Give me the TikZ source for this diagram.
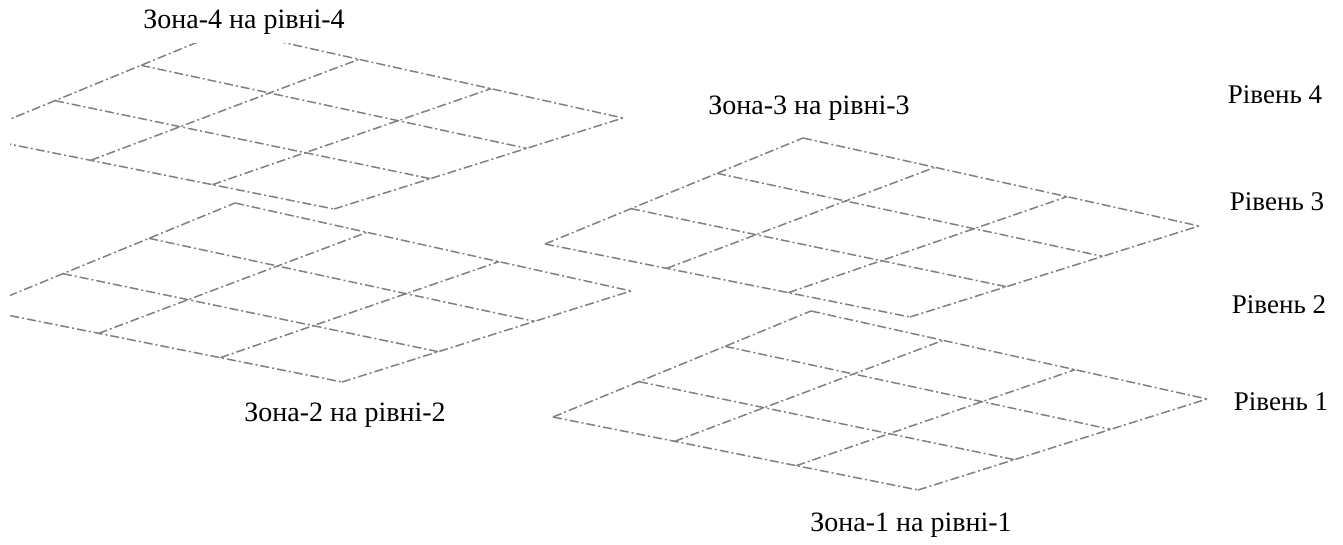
\documentclass[tikz,border=0pt]{standalone}
\usepackage{fontspec}
\setmainfont{Liberation Serif}
\usetikzlibrary{calc}

\begin{document}
\begin{tikzpicture}[x=1pt, y=-1pt,
    gridline/.style={draw=black!50, line width=1.5pt,
                     dash pattern=on 9pt off 3pt on 2pt off 3pt},
    zonelbl/.style={font=\fontsize{28}{30}\selectfont, anchor=base},
    levellbl/.style={font=\fontsize{27}{30}\selectfont, anchor=base}
  ]
  \useasboundingbox (0,0) rectangle (1343,544);

  % 3x3 floor grids, same shape moved by its top corner
  \begin{scope}
    \clip (10,0) rectangle (1343,544);
    \foreach \tx/\ty in {227/30, 803/138, 235/203, 811/311} {
      \coordinate (T) at (\tx,\ty);
      \coordinate (L) at ($(T)+(-258,106)$);
      \coordinate (B) at ($(T)+(107,179)$);
      \coordinate (R) at ($(T)+(396,88)$);
      \foreach \i in {0,...,3} {
        \draw[gridline] ($(L)!\i/3!(T)$) -- ($(B)!\i/3!(R)$);
        \draw[gridline] ($(L)!\i/3!(B)$) -- ($(T)!\i/3!(R)$);
      }
    }
  \end{scope}

  % zone captions
  \node[zonelbl, fill=white, inner ysep=9pt] (zone4) at (244,28)
        {Зона-4 на рівні-4};
  \node[zonelbl] (zone3) at (809,114) {Зона-3 на рівні-3};
  \node[zonelbl] (zone2) at (345,421) {Зона-2 на рівні-2};
  \node[zonelbl] (zone1) at (911,531) {Зона-1 на рівні-1};

  % level names on the right
  \node[levellbl] (lvl4) at (1275,103) {Рівень 4};
  \node[levellbl] (lvl3) at (1277,210) {Рівень 3};
  \node[levellbl] (lvl2) at (1279,313) {Рівень 2};
  \node[levellbl] (lvl1) at (1281,410) {Рівень 1};
\end{tikzpicture}
\end{document}
